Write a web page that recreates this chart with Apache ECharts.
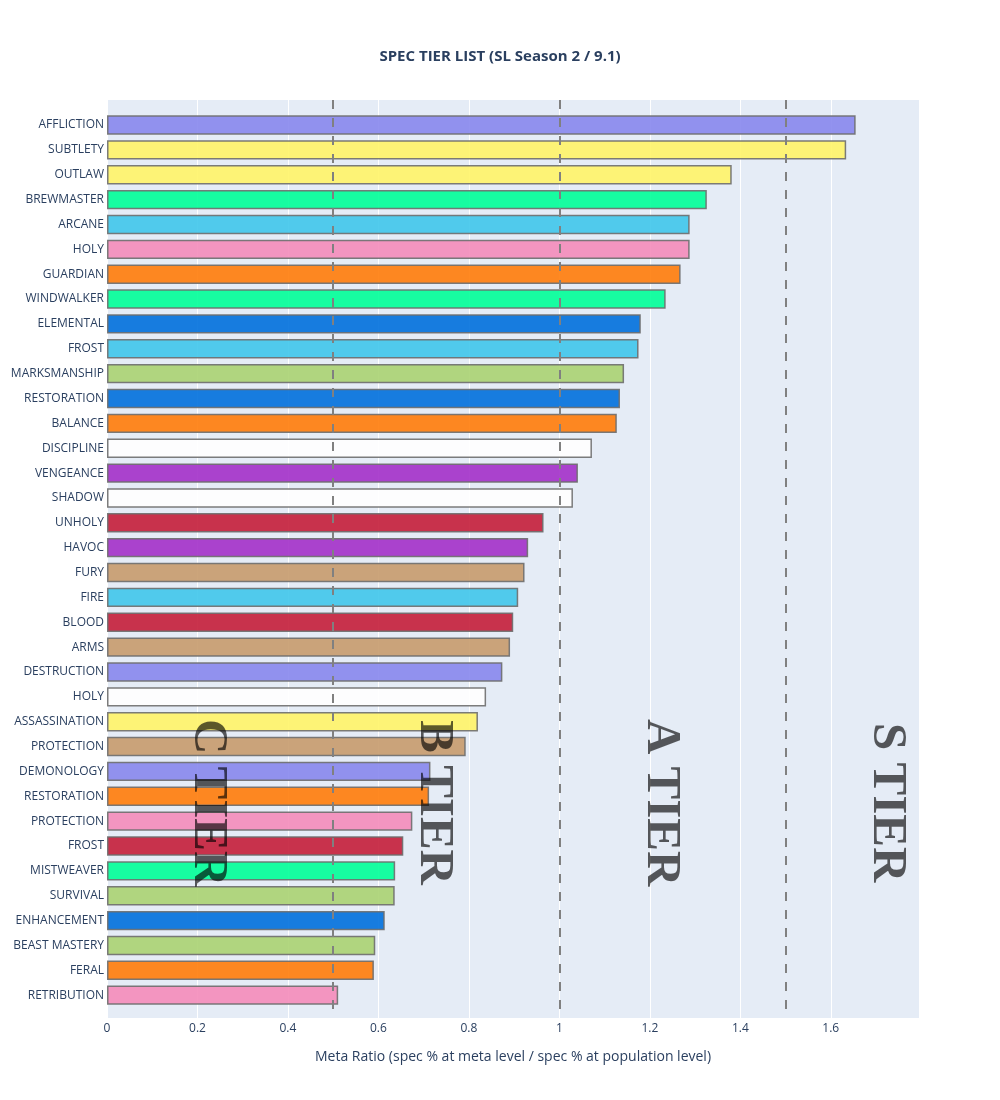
<!DOCTYPE html>
<html>
<head>
<meta charset="utf-8">
<title>Spec tier list</title>
<script src="https://cdn.jsdelivr.net/npm/echarts@6/dist/echarts.min.js"></script>
<style>
  html, body { margin: 0; padding: 0; background: #ffffff; }
  #main { width: 1000px; height: 1100px; }
</style>
</head>
<body>
<div id="main"></div>
<script>
// specs top to bottom, as in the picture
const specs = ['AFFLICTION', 'SUBTLETY', 'OUTLAW', 'BREWMASTER', 'ARCANE', 'HOLY', 'GUARDIAN',
  'WINDWALKER', 'ELEMENTAL', 'FROST', 'MARKSMANSHIP', 'RESTORATION', 'BALANCE', 'DISCIPLINE',
  'VENGEANCE', 'SHADOW', 'UNHOLY', 'HAVOC', 'FURY', 'FIRE', 'BLOOD', 'ARMS', 'DESTRUCTION', 'HOLY',
  'ASSASSINATION', 'PROTECTION', 'DEMONOLOGY', 'RESTORATION', 'PROTECTION', 'FROST', 'MISTWEAVER',
  'SURVIVAL', 'ENHANCEMENT', 'BEAST MASTERY', 'FERAL', 'RETRIBUTION'];

const specClass = ['warlock', 'rogue', 'rogue', 'monk', 'mage', 'paladin', 'druid',
  'monk', 'shaman', 'mage', 'hunter', 'shaman', 'druid', 'priest',
  'demonhunter', 'priest', 'deathknight', 'demonhunter', 'warrior', 'mage', 'deathknight', 'warrior', 'warlock', 'priest',
  'rogue', 'warrior', 'warlock', 'druid', 'paladin', 'deathknight', 'monk',
  'hunter', 'shaman', 'hunter', 'druid', 'paladin'];

const metaRatio = [1.655, 1.634, 1.381, 1.326, 1.288, 1.288, 1.268,
  1.235, 1.180, 1.175, 1.143, 1.134, 1.127, 1.072,
  1.041, 1.030, 0.965, 0.931, 0.923, 0.909, 0.898, 0.891, 0.874, 0.838,
  0.820, 0.793, 0.715, 0.712, 0.675, 0.655, 0.637,
  0.636, 0.614, 0.593, 0.590, 0.511];

const classColors = {
  warlock: '#8787ED', rogue: '#FFF468', monk: '#00FF98', mage: '#3FC7EB',
  paladin: '#F48CBA', druid: '#FF7C0A', shaman: '#0070DD', hunter: '#AAD372',
  priest: '#FFFFFF', demonhunter: '#A330C9', deathknight: '#C41E3A', warrior: '#C69B6D'
};

// tier cut lines and labels
const tierLines = [0.5, 1, 1.5];
const tierNames = ['C TIER', 'B TIER', 'A TIER', 'S TIER'];
const tierX = [0.223, 0.723, 1.223, 1.723];
const tierY = 27.3;  // in category rows

const xTicks = [0, 0.2, 0.4, 0.6, 0.8, 1, 1.2, 1.4, 1.6];
const X_MAX = 1.795;

const FONT = "'Open Sans', 'Noto Sans', sans-serif";
const INK = '#2a3f5f';

var myChart = echarts.init(document.getElementById('main'));

var barData = metaRatio.map((v, i) => ({
  value: v,
  itemStyle: { color: classColors[specClass[i]] }
}));

var option = {
  animation: false,
  backgroundColor: '#ffffff',
  textStyle: { fontFamily: FONT },
  title: {
    text: 'SPEC TIER LIST (SL Season 2 / 9.1)',
    left: 'center',
    top: 44,
    textStyle: { fontFamily: FONT, fontSize: 15, fontWeight: 'bold', color: INK }
  },
  grid: [
    // outer grid: background, vertical grid lines, ticks, tier marks
    { left: 107, right: 81, top: 100, bottom: 82, show: true, backgroundColor: '#E5ECF6', borderWidth: 0 },
    // inner grid: bars (plotly leaves some padding above and below)
    { left: 107, right: 81, top: 112.6, bottom: 92.4 }
  ],
  xAxis: [
    {
      gridIndex: 0, type: 'value', min: 0, max: X_MAX, interval: 0.2,
      name: 'Meta Ratio (spec % at meta level / spec % at population level)',
      nameLocation: 'middle', nameGap: 32,
      nameTextStyle: { fontFamily: FONT, fontSize: 14, color: INK },
      axisLine: { show: false }, axisTick: { show: false },
      axisLabel: {
        fontFamily: FONT, fontSize: 12, color: INK, margin: 5, showMaxLabel: false,
        formatter: v => (xTicks.some(t => Math.abs(t - v) < 1e-6) ? String(+v.toFixed(1)) : '')
      },
      splitLine: { show: true, lineStyle: { color: '#ffffff', width: 1 } }
    },
    {
      gridIndex: 1, type: 'value', min: 0, max: X_MAX, show: false,
      splitLine: { show: false }
    }
  ],
  yAxis: [
    {
      gridIndex: 0, type: 'value', inverse: true, min: -0.965, max: 35.965, show: false,
      splitLine: { show: false }
    },
    {
      gridIndex: 1, type: 'category', inverse: true, data: specs,
      axisLine: { show: false }, axisTick: { show: false },
      axisLabel: { fontFamily: FONT, fontSize: 12, color: INK, margin: 3, interval: 0 },
      splitLine: { show: false }
    }
  ],
  series: [
    {
      type: 'bar',
      xAxisIndex: 1, yAxisIndex: 1,
      data: barData,
      barWidth: '78%',
      z: 2,
      itemStyle: { opacity: 0.9, borderColor: '#6e6e6e', borderWidth: 1.5 }
    },
    {
      // tier labels + cut lines, drawn over the bars
      type: 'scatter',
      xAxisIndex: 0, yAxisIndex: 0,
      z: 5,
      symbolSize: 0,
      data: tierNames.map((n, i) => ({ name: n, value: [tierX[i], tierY] })),
      label: {
        show: true,
        position: 'inside',
        rotate: -90,
        formatter: p => p.name,
        fontFamily: "'Liberation Serif', 'DejaVu Serif', serif",
        fontWeight: 'bold',
        fontSize: 49,
        color: 'rgba(0,0,0,0.8)',
        textBorderWidth: 0
      },
      markLine: {
        silent: true,
        symbol: ['none', 'none'],
        label: { show: false },
        lineStyle: { color: '#808080', width: 2, type: [9, 9] },
        data: tierLines.map(v => ({ xAxis: v }))
      }
    }
  ]
};

myChart.setOption(option);
</script>
</body>
</html>
